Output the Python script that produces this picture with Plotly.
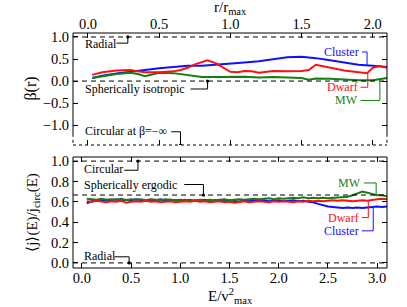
import plotly.graph_objects as go

# ---------------- data ----------------
# Top panel: anisotropy beta(r) vs r/r_max
r_cluster = [0.03, 0.1, 0.2, 0.3, 0.4, 0.5, 0.6, 0.7, 0.8, 0.9, 1.0, 1.1, 1.2, 1.3, 1.4, 1.5, 1.6, 1.7, 1.8, 1.9, 2.0, 2.1]
beta_cluster = [0.07, 0.12, 0.17, 0.21, 0.26, 0.29, 0.32, 0.35, 0.35, 0.37, 0.39, 0.42, 0.45, 0.49, 0.54, 0.55, 0.52, 0.47, 0.42, 0.37, 0.35, 0.32]

r_dwarf = [0.03, 0.1, 0.2, 0.3, 0.35, 0.4, 0.5, 0.6, 0.65, 0.7, 0.75, 0.8, 0.84, 0.9, 0.95, 1.0, 1.05, 1.1, 1.15,
           1.2, 1.3, 1.4, 1.5, 1.55, 1.6, 1.65, 1.7, 1.8, 1.9, 1.96, 2.0, 2.05, 2.1]
beta_dwarf = [0.14, 0.2, 0.24, 0.25, 0.22, 0.2, 0.2, 0.22, 0.25, 0.3, 0.38, 0.44, 0.47, 0.4, 0.3, 0.21, 0.2, 0.23, 0.22,
              0.19, 0.23, 0.22, 0.23, 0.25, 0.37, 0.34, 0.3, 0.24, 0.2, 0.18, 0.3, 0.34, 0.3]

r_mw = [0.03, 0.1, 0.2, 0.3, 0.35, 0.4, 0.45, 0.5, 0.6, 0.7, 0.8, 0.9, 1.0, 1.1, 1.2, 1.3, 1.4, 1.5, 1.55, 1.6, 1.7,
        1.8, 1.9, 2.0, 2.05, 2.1]
beta_mw = [0.07, 0.11, 0.16, 0.19, 0.16, 0.11, 0.15, 0.19, 0.18, 0.14, 0.09, 0.09, 0.09, 0.1, 0.08, 0.09, 0.08, 0.07,
           0.03, 0.06, 0.05, 0.03, 0.02, 0.02, 0.04, 0.07]

# Bottom panel: <j>(E)/j_circ(E) vs E/v_max^2
E = [0.05, 0.10, 0.15, 0.20, 0.25, 0.30, 0.35, 0.40, 0.45, 0.50, 0.55, 0.60, 0.65, 0.70, 0.75, 0.80, 0.85, 0.90,
     0.95, 1.00, 1.05, 1.10, 1.15, 1.20, 1.25, 1.30, 1.35, 1.40, 1.45, 1.50, 1.55, 1.60, 1.65, 1.70, 1.75, 1.80,
     1.85, 1.90, 1.95, 2.00, 2.05, 2.10, 2.15, 2.20, 2.25, 2.30, 2.35, 2.40, 2.45, 2.50, 2.55, 2.60, 2.65, 2.70,
     2.75, 2.80, 2.85, 2.90, 2.95, 3.00, 3.05, 3.10]
j_cluster = [0.585, 0.605, 0.615, 0.61, 0.62, 0.615, 0.625, 0.61, 0.62, 0.615, 0.625, 0.62, 0.61, 0.62, 0.615, 0.625,
             0.61, 0.62, 0.615, 0.61, 0.62, 0.605, 0.615, 0.61, 0.62, 0.605, 0.615, 0.61, 0.605, 0.615, 0.61, 0.60,
             0.615, 0.605, 0.62, 0.61, 0.615, 0.605, 0.61, 0.615, 0.605, 0.61, 0.615, 0.605, 0.61, 0.60, 0.595,
             0.58, 0.565, 0.555, 0.55, 0.545, 0.54, 0.545, 0.54, 0.545, 0.54, 0.545, 0.55, 0.555, 0.55, 0.555]
j_mw = [0.63, 0.625, 0.62, 0.63, 0.62, 0.625, 0.62, 0.63, 0.615, 0.625, 0.62, 0.625, 0.615, 0.625, 0.62, 0.615,
        0.625, 0.62, 0.615, 0.62, 0.615, 0.62, 0.61, 0.62, 0.615, 0.62, 0.615, 0.62, 0.625, 0.615, 0.62, 0.625,
        0.62, 0.625, 0.63, 0.625, 0.63, 0.635, 0.625, 0.635, 0.63, 0.635, 0.64, 0.635, 0.645, 0.635, 0.64, 0.635,
        0.64, 0.635, 0.64, 0.64, 0.645, 0.65, 0.665, 0.685, 0.70, 0.69, 0.675, 0.665, 0.665, 0.655]
j_dwarf = [0.605, 0.60, 0.61, 0.60, 0.595, 0.605, 0.60, 0.61, 0.59, 0.60, 0.605, 0.60, 0.61, 0.60, 0.605, 0.595,
           0.60, 0.605, 0.595, 0.60, 0.605, 0.60, 0.61, 0.60, 0.605, 0.595, 0.60, 0.605, 0.595, 0.60, 0.59, 0.60,
           0.605, 0.595, 0.60, 0.605, 0.60, 0.595, 0.605, 0.60, 0.605, 0.60, 0.595, 0.605, 0.60, 0.61, 0.605, 0.61,
           0.605, 0.61, 0.615, 0.61, 0.615, 0.61, 0.605, 0.61, 0.615, 0.61, 0.62, 0.625, 0.63, 0.625]

beta_ticks = [-1.0, -0.5, 0.0, 0.5, 1.0]
r_ticks = [0.0, 0.5, 1.0, 1.5, 2.0]
j_ticks = [0.0, 0.2, 0.4, 0.6, 0.8, 1.0]
E_ticks = [0.0, 0.5, 1.0, 1.5, 2.0, 2.5, 3.0]

# ---------------- styling ----------------
FONT = "Liberation Serif"
BLUE = "#1010ff"
RED = "#ff1010"
GREEN = "#108010"
TICK_SIZE = 14.5
LAB_SIZE = 12
TITLE_SIZE = 15

fig = go.Figure()

fig.add_trace(go.Scatter(x=r_cluster, y=beta_cluster, mode="lines", line=dict(color=BLUE, width=2),
                         xaxis="x", yaxis="y", showlegend=False))
fig.add_trace(go.Scatter(x=r_mw, y=beta_mw, mode="lines", line=dict(color=GREEN, width=2),
                         xaxis="x", yaxis="y", showlegend=False))
fig.add_trace(go.Scatter(x=r_dwarf, y=beta_dwarf, mode="lines", line=dict(color=RED, width=2),
                         xaxis="x", yaxis="y", showlegend=False))

fig.add_trace(go.Scatter(x=E, y=j_cluster, mode="lines", line=dict(color=BLUE, width=2),
                         xaxis="x2", yaxis="y2", showlegend=False))
fig.add_trace(go.Scatter(x=E, y=j_mw, mode="lines", line=dict(color=GREEN, width=2),
                         xaxis="x2", yaxis="y2", showlegend=False))
fig.add_trace(go.Scatter(x=E, y=j_dwarf, mode="lines", line=dict(color=RED, width=2),
                         xaxis="x2", yaxis="y2", showlegend=False))

ax_common = dict(showgrid=False, zeroline=False, ticks="inside", ticklen=5, tickcolor="black", tickwidth=1,
                 showline=True, linecolor="rgba(0,0,0,0)", mirror="ticks", automargin=False,
                 tickfont=dict(family=FONT, size=TICK_SIZE, color="black"))

fig.update_layout(
    width=407, height=307,
    margin=dict(l=73, r=20, t=33, b=39, autoexpand=False),
    paper_bgcolor="white", plot_bgcolor="white",
    font=dict(family=FONT, color="black"),
    xaxis=dict(domain=[0, 1], anchor="y", side="top", range=[-0.105, 2.1], ticklabelstandoff=-3,
               tickvals=r_ticks, ticktext=[f"{v:.1f}" for v in r_ticks], **ax_common),
    yaxis=dict(domain=[0.5234, 1], anchor="x", range=[-1.45, 1.09],
               tickvals=beta_ticks, ticktext=[f"{v:.1f}".replace("-", "\u2212") for v in beta_ticks], **ax_common),
    xaxis2=dict(domain=[0, 1], anchor="y2", range=[-0.09, 3.1], ticklabelstandoff=-3,
                tickvals=E_ticks, ticktext=[f"{v:.1f}" for v in E_ticks], **ax_common),
    yaxis2=dict(domain=[0, 0.4723], anchor="x2", range=[-0.05, 1.04],
                tickvals=j_ticks, ticktext=[f"{v:.1f}" for v in j_ticks], **ax_common),
)

shapes = []

def dline(xref, yref, x0, y0, x1, y1, dash="solid", color="black", width=1):
    shapes.append(dict(type="line", xref=xref, yref=yref, x0=x0, y0=y0, x1=x1, y1=y1,
                       line=dict(color=color, width=width, dash=dash)))

# top panel frame (bottom edge dotted: beta -> -inf)
dline("x domain", "y domain", 0, 1, 1, 1)
dline("x domain", "y domain", 0, 1, 0, 0.1)
dline("x domain", "y domain", 1, 1, 1, 0.1)
dline("x domain", "y domain", 0, 0.1, 0, 0, dash="dot")
dline("x domain", "y domain", 1, 0.1, 1, 0, dash="dot")
dline("x domain", "y domain", 0, 0, 1, 0, dash="dot")
# bottom panel frame
dline("x2 domain", "y2 domain", 0, 1, 1, 1)
dline("x2 domain", "y2 domain", 0, 0, 1, 0)
dline("x2 domain", "y2 domain", 0, 0, 0, 1)
dline("x2 domain", "y2 domain", 1, 0, 1, 1)

# reference dashed lines
for yv in [1.0, 0.0]:
    dline("x domain", "y", 0, yv, 1, yv, dash="5px,4px")
for yv in [1.0, 2.0 / 3.0, 0.0]:
    dline("x2 domain", "y2", 0, yv, 1, yv, dash="5px,4px")

annotations = []

def label(xr, yr, x, y, text, color="black", anchor="left", size=LAB_SIZE):
    annotations.append(dict(xref=xr, yref=yr, x=x, y=y, text=text, showarrow=False, xanchor=anchor,
                            yanchor="middle", font=dict(family=FONT, size=size, color=color)))

def elbow(xr, yr, xa, ya, xb, yb, color="black", dot=True):
    # horizontal from (xa, ya) to (xb, ya) then vertical to (xb, yb)
    shapes.append(dict(type="path", xref=xr, yref=yr, path=f"M {xa},{ya} L {xb},{ya} L {xb},{yb}",
                       line=dict(color=color, width=1)))
    if dot:
        shapes.append(dict(type="circle", xref=xr, yref=yr, xsizemode="pixel", ysizemode="pixel",
                           xanchor=xb, yanchor=yb, x0=-1.6, x1=1.6, y0=-1.6, y1=1.6,
                           fillcolor=color, line=dict(color=color, width=0)))

# top panel labels
label("x", "y", -0.035, 0.84, "Radial")
elbow("x", "y", 0.2, 0.86, 0.28, 1.0)
label("x", "y", -0.035, -0.18, "Spherically isotropic")
elbow("x", "y", 0.72, -0.18, 0.84, 0.0)
label("x", "y", -0.035, -1.14, "Circular at \u03b2=\u2212\u221e")
elbow("x", "y", 0.585, -1.15, 0.65, -1.45)
label("x", "y", 1.92, 0.66, "Cluster", BLUE, "right")
elbow("x", "y", 1.925, 0.66, 1.96, 0.37, BLUE, dot=False)
label("x", "y", 1.91, -0.14, "Dwarf", RED, "right")
elbow("x", "y", 1.915, -0.14, 1.965, 0.18, RED, dot=False)
label("x", "y", 1.91, -0.44, "MW", GREEN, "right")
elbow("x", "y", 1.915, -0.44, 2.05, 0.04, GREEN, dot=False)

# bottom panel labels
label("x2", "y2", 0.0, 0.925, "Circular")
elbow("x2", "y2", 0.43, 0.91, 0.57, 1.0)
label("x2", "y2", 0.0, 0.765, "Spherically ergodic")
elbow("x2", "y2", 1.04, 0.77, 1.235, 2.0 / 3.0)
label("x2", "y2", 0.0, 0.07, "Radial")
elbow("x2", "y2", 0.33, 0.06, 0.48, 0.0)
label("x2", "y2", 2.86, 0.785, "MW", GREEN, "right")
elbow("x2", "y2", 2.865, 0.785, 2.99, 0.665, GREEN, dot=False)
label("x2", "y2", 2.84, 0.445, "Dwarf", RED, "right")
elbow("x2", "y2", 2.845, 0.445, 2.91, 0.61, RED, dot=False)
label("x2", "y2", 2.84, 0.315, "Cluster", BLUE, "right")
elbow("x2", "y2", 2.845, 0.315, 2.96, 0.545, BLUE, dot=False)

# axis titles
annotations.append(dict(xref="paper", yref="paper", x=-0.135, y=0.762, text="\u03b2(r)", textangle=-90,
                        showarrow=False, xanchor="center", yanchor="middle",
                        font=dict(family=FONT, size=TITLE_SIZE + 1, color="black")))
annotations.append(dict(xref="paper", yref="paper", x=0.5, y=1.0, yshift=36, text="r/r<sub>max</sub>",
                        showarrow=False, xanchor="center", yanchor="top",
                        font=dict(family=FONT, size=TITLE_SIZE, color="black")))
annotations.append(dict(xref="paper", yref="paper", x=-0.13, y=0.236,
                        text="\u27e8j\u27e9(E)/j<sub>circ</sub>(E)", textangle=-90,
                        showarrow=False, xanchor="center", yanchor="middle",
                        font=dict(family=FONT, size=TITLE_SIZE, color="black")))
annotations.append(dict(xref="paper", yref="paper", x=0.5, y=0.0, yshift=-40, text="E/v<sup>2</sup><sub>max</sub>",
                        showarrow=False, xanchor="center", yanchor="bottom",
                        font=dict(family=FONT, size=TITLE_SIZE, color="black")))

fig.update_layout(shapes=shapes, annotations=annotations)
fig.write_html("out.html", config={"displayModeBar": False},
               post_script="document.body.style.margin='0';document.body.style.padding='0';"
                           "document.body.style.overflow='hidden';")
